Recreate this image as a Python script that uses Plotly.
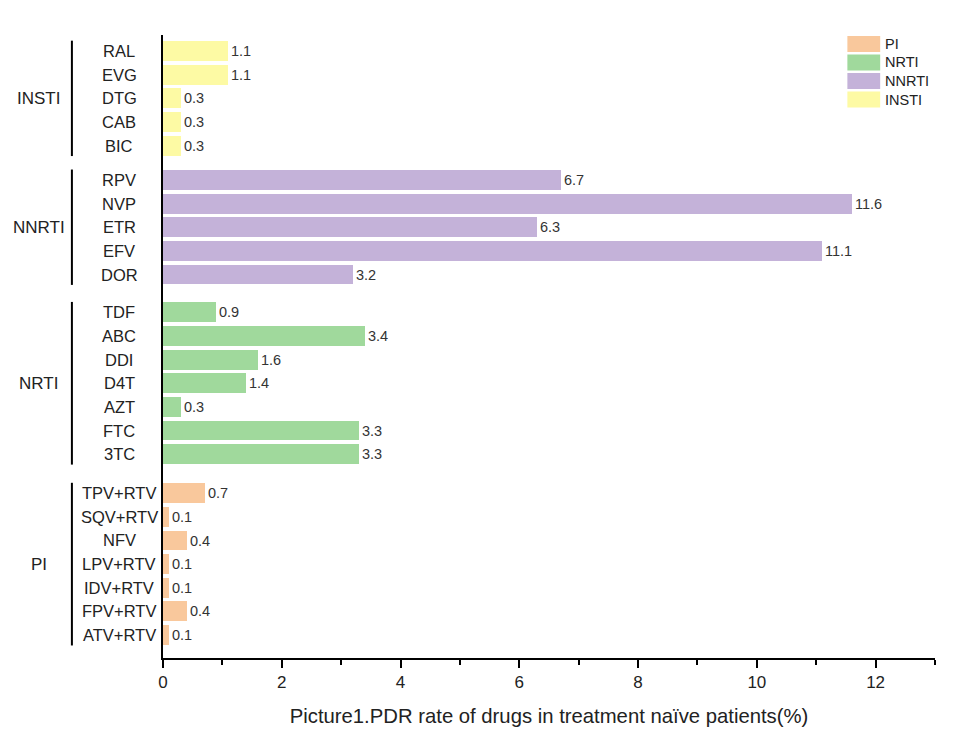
import plotly.graph_objects as go

# ---- data ----
groups = ["INSTI", "NNRTI", "NRTI", "PI"]
insti_drugs = ["RAL", "EVG", "DTG", "CAB", "BIC"]
insti_vals = [1.1, 1.1, 0.3, 0.3, 0.3]
nnrti_drugs = ["RPV", "NVP", "ETR", "EFV", "DOR"]
nnrti_vals = [6.7, 11.6, 6.3, 11.1, 3.2]
nrti_drugs = ["TDF", "ABC", "DDI", "D4T", "AZT", "FTC", "3TC"]
nrti_vals = [0.9, 3.4, 1.6, 1.4, 0.3, 3.3, 3.3]
pi_drugs = ["TPV+RTV", "SQV+RTV", "NFV", "LPV+RTV", "IDV+RTV", "FPV+RTV", "ATV+RTV"]
pi_vals = [0.7, 0.1, 0.4, 0.1, 0.1, 0.4, 0.1]

colors = {"PI": "#F9C89C", "NRTI": "#A0D99C", "NNRTI": "#C4B2D9", "INSTI": "#FDFAA4"}
legend_order = ["PI", "NRTI", "NNRTI", "INSTI"]

group_data = {
    "INSTI": (insti_drugs, insti_vals),
    "NNRTI": (nnrti_drugs, nnrti_vals),
    "NRTI": (nrti_drugs, nrti_vals),
    "PI": (pi_drugs, pi_vals),
}

# ---- positions (bottom-up), with a gap between groups ----
gaps = {"PI": 0.0, "NRTI": 1.65, "NNRTI": 1.6, "INSTI": 1.45}
pos = {}
cur = 0.0
first = True
for g in ["PI", "NRTI", "NNRTI", "INSTI"]:
    drugs, vals = group_data[g]
    ys = []
    for i, d in enumerate(reversed(drugs)):
        if first:
            first = False
        elif i == 0:
            cur += gaps[g]
        else:
            cur += 1.0
        ys.append(cur)
    pos[g] = list(reversed(ys))

fig = go.Figure()
font_family = "Liberation Sans, Arial, sans-serif"
txt_col = "#222222"

for g in groups:
    drugs, vals = group_data[g]
    fig.add_trace(go.Bar(
        x=vals, y=pos[g], orientation="h",
        marker=dict(color=colors[g], line=dict(width=0)),
        width=0.84,
        text=[f"{v:g}" for v in vals],
        textposition="outside",
        constraintext="none",
        textfont=dict(size=14.5, color="#333333", family=font_family),
        cliponaxis=False,
        showlegend=False,
        name=g,
    ))

annotations = []
shapes = []
for g in groups:
    drugs, vals = group_data[g]
    for d, y in zip(drugs, pos[g]):
        annotations.append(dict(
            x=-0.0565, xref="paper", y=y, yref="y", text=d, showarrow=False,
            xanchor="center", yanchor="middle",
            font=dict(size=16.5, color=txt_col, family=font_family)))
    ys = pos[g]
    top, bot = max(ys), min(ys)
    shapes.append(dict(type="line", xref="paper", yref="y",
                       x0=-0.118, x1=-0.118, y0=top + 0.44, y1=bot - 0.44,
                       line=dict(color="black", width=2)))
    annotations.append(dict(
        x=-0.161, xref="paper", y=(top + bot) / 2, yref="y", text=g, showarrow=False,
        xanchor="center", yanchor="middle",
        font=dict(size=17, color=txt_col, family=font_family)))

# manual legend
lx0, lx1 = 0.8865, 0.929
ly_top = 1.0 - (36 - 35) / 623
step = 18.5 / 623
for i, g in enumerate(legend_order):
    yt = ly_top - i * step
    yb = yt - 16 / 623
    shapes.append(dict(type="rect", xref="paper", yref="paper",
                       x0=lx0, x1=lx1, y0=yb, y1=yt,
                       fillcolor=colors[g], line=dict(width=0)))
    annotations.append(dict(x=lx1 + 0.003, xref="paper", y=(yt + yb) / 2, yref="paper",
                            text=g, showarrow=False, xanchor="left", yanchor="middle",
                            font=dict(size=14.5, color=txt_col, family=font_family)))

fig.update_layout(
    width=944, height=730,
    margin=dict(l=155, r=17, t=27, b=80),
    plot_bgcolor="white", paper_bgcolor="white",
    bargap=0,
    annotations=annotations, shapes=shapes,
    xaxis=dict(range=[0, 13], tickvals=list(range(0, 13, 2)),
               showline=True, linecolor="black", linewidth=2,
               ticks="outside", ticklen=8, tickwidth=2, tickcolor="black",
               minor=dict(tickvals=list(range(1, 14, 2)), ticks="outside", ticklen=5,
                          tickwidth=2, tickcolor="black"),
               showgrid=False, zeroline=False,
               tickfont=dict(size=17, color=txt_col, family=font_family),
               title=dict(text="Picture1.PDR rate of drugs in treatment naïve patients(%)",
                          font=dict(size=20.3, color=txt_col, family=font_family),
                          standoff=17)),
    yaxis=dict(range=[-0.97, max(pos["INSTI"]) + 0.68],
               showline=True, linecolor="black", linewidth=2,
               showticklabels=False, ticks="", showgrid=False, zeroline=False),
)

fig.write_html("out.html")
